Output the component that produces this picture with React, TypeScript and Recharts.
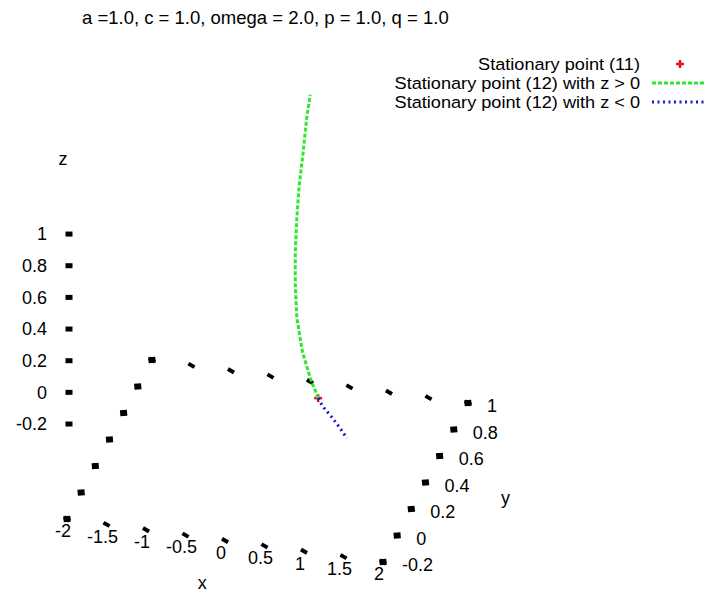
import React from 'react';
import { ScatterChart, Scatter, XAxis, YAxis, Legend } from 'recharts';

const W = 706;
const H = 592;
const FONT = '"Liberation Sans", Arial, Helvetica, sans-serif';
const FS = 18;

// tick values
const xTicks = [-2, -1.5, -1, -0.5, 0, 0.5, 1, 1.5, 2];
const yTicks = [-0.2, 0, 0.2, 0.4, 0.6, 0.8, 1];
const zTicks = [-0.2, 0, 0.2, 0.4, 0.6, 0.8, 1];

const legendNames = [
  'Stationary point (11)',
  'Stationary point (12) with z > 0',
  'Stationary point (12) with z < 0',
];

// stationary point (11)
const p11X = [1];
const p11Y = [0];
const p11Z = [0];

// stationary point (12), z > 0 branch
const upX = [1.0, 0.9, 0.8, 0.73, 0.71, 0.71, 0.73, 0.76, 0.81, 0.855, 0.9];
const upY = [0, 0, 0, 0, 0, 0, 0, 0, 0, 0, 0];
const upZ = [0, 0.12, 0.28, 0.49, 0.7, 0.9, 1.12, 1.33, 1.54, 1.76, 1.91];

// stationary point (12), z < 0 branch
const downX = [1.0, 1.06, 1.175, 1.276, 1.365];
const downY = [0, 0, 0, 0, 0];
const downZ = [0, -0.05, -0.11, -0.17, -0.23];

// view (parallel projection like gnuplot splot): screen units per data unit
const X0 = -2, Y0 = -0.2, Z0 = -0.8; // base corner
const EX = [79, -10.75];
const EY = [70.8, 132.5];
const EZ = [0, 158.3];
const PX0 = 67;
const PY0 = 519;

const project = (x: number, y: number, z: number) => ({
  u: (x - X0) * EX[0] + (y - Y0) * EY[0] + (z - Z0) * EZ[0],
  v: (x - X0) * EX[1] + (y - Y0) * EY[1] + (z - Z0) * EZ[1],
});

const series = (xs: number[], ys: number[], zs: number[]) =>
  xs.map((x, i) => project(x, ys[i], zs[i]));

const p11Data = series(p11X, p11Y, p11Z);
const upData = series(upX, upY, upZ);
const downData = series(downX, downY, downZ);

const xFront = xTicks.map((x) => ({ ...project(x, Y0, Z0), label: String(x) }));
const xBack = xTicks.map((x) => project(x, 1, Z0));
const yRight = yTicks.map((y) => ({ ...project(2, y, Z0), label: String(y) }));
const yLeft = yTicks.map((y) => project(X0, y, Z0));
const zAxis = zTicks.map((z) => ({ ...project(X0, Y0, z), label: String(z) }));

const axisTitles = [
  { ...project(0, -0.52, Z0), label: 'x' },
  { ...project(3.04, 0.37, Z0), label: 'y' },
  { ...project(X0 - 0.05, Y0, 1.47), label: 'z' },
];

const GREEN = '#2ee82e';
const BLUE = '#1717d4';
const RED = '#f01010';

const txt = { fontFamily: FONT, fontSize: FS, fill: '#000' };

const tickBlob = (rot: number, w = 7, h = 4, dx = 0) => (p: any) => (
  <rect
    x={p.cx + dx - w / 2}
    y={p.cy - h / 2}
    width={w}
    height={h}
    fill="#000"
    transform={`rotate(${rot} ${p.cx + dx} ${p.cy})`}
  />
);

const xFrontShape = (p: any) => (
  <g>
    {tickBlob(30)(p)}
    <text x={p.cx - 4} y={p.cy + 12} dy="0.35em" textAnchor="middle" style={txt}>
      {p.payload.label}
    </text>
  </g>
);

const yRightShape = (p: any) => (
  <g>
    {tickBlob(-5, 7, 6)(p)}
    <text x={p.cx + 19} y={p.cy + 3} dy="0.35em" textAnchor="start" style={txt}>
      {p.payload.label}
    </text>
  </g>
);

const zShape = (p: any) => (
  <g>
    {tickBlob(0, 7, 5, 2)(p)}
    <text x={p.cx - 20} y={p.cy} dy="0.35em" textAnchor="end" style={txt}>
      {p.payload.label}
    </text>
  </g>
);

const titleShape = (p: any) => (
  <text x={p.cx} y={p.cy} dy="0.35em" textAnchor="middle" style={txt}>
    {p.payload.label}
  </text>
);

const plusShape = (p: any) => (
  <g stroke={RED} strokeWidth={2.5}>
    <line x1={p.cx - 4} y1={p.cy} x2={p.cx + 4} y2={p.cy} />
    <line x1={p.cx} y1={p.cy - 4} x2={p.cx} y2={p.cy + 4} />
  </g>
);

const noShape = () => <g />;

const LegendBox = (props: any) => {
  const items = (props.payload || [])
    .filter((e: any) => legendNames.includes(e.value))
    .sort((a: any, b: any) => legendNames.indexOf(a.value) - legendNames.indexOf(b.value));
  return (
    <svg width={W} height={120}>
      {items.map((e: any) => {
        const i = legendNames.indexOf(e.value);
        const y = 64 + i * 19;
        return (
          <g key={e.value}>
            <text
              x={0}
              y={0}
              dy="0.35em"
              textAnchor="end"
              transform={`translate(640 ${y}) scale(1.1 1)`}
              style={{ ...txt, fontSize: 16.5 }}
            >
              {e.value}
            </text>
            {i === 0 ? (
              <g stroke={RED} strokeWidth={2.5}>
                <line x1={676} y1={y} x2={684} y2={y} />
                <line x1={680} y1={y - 4} x2={680} y2={y + 4} />
              </g>
            ) : (
              <line
                x1={652}
                y1={y}
                x2={706}
                y2={y}
                stroke={e.color}
                strokeWidth={3}
                strokeDasharray={i === 1 ? '4 2' : '2 3.5'}
              />
            )}
          </g>
        );
      })}
    </svg>
  );
};

export default function App() {
  return (
    <div style={{ position: 'absolute', left: 0, top: 0, width: W, height: H, background: '#fff' }}>
      <div
        style={{
          position: 'absolute',
          left: 82,
          top: 8,
          fontFamily: FONT,
          fontSize: 18.5,
          lineHeight: '20px',
          whiteSpace: 'nowrap',
          color: '#000',
        }}
      >
        a =1.0, c = 1.0, omega = 2.0, p = 1.0, q = 1.0
      </div>
      <ScatterChart width={W} height={H} margin={{ top: 0, right: 0, bottom: 0, left: 0 }}>
        <XAxis type="number" dataKey="u" domain={[-PX0, W - PX0]} hide allowDataOverflow />
        <YAxis type="number" dataKey="v" domain={[PY0 - H, PY0]} hide allowDataOverflow />
        <Legend
          layout="horizontal"
          verticalAlign="middle"
          align="center"
          content={LegendBox}
          wrapperStyle={{ position: 'absolute', left: 0, top: 0, width: W, height: 120 }}
        />
        <Scatter data={xBack} shape={tickBlob(30)} legendType="none" isAnimationActive={false} />
        <Scatter data={yLeft} shape={tickBlob(-5, 7, 6)} legendType="none" isAnimationActive={false} />
        <Scatter data={xFront} shape={xFrontShape} legendType="none" isAnimationActive={false} />
        <Scatter data={yRight} shape={yRightShape} legendType="none" isAnimationActive={false} />
        <Scatter data={zAxis} shape={zShape} legendType="none" isAnimationActive={false} />
        <Scatter data={axisTitles} shape={titleShape} legendType="none" isAnimationActive={false} />
        <Scatter
          name={legendNames[0]}
          data={p11Data}
          fill={RED}
          shape={plusShape}
          isAnimationActive={false}
        />
        <Scatter
          name={legendNames[1]}
          data={upData}
          fill={GREEN}
          line={{ stroke: GREEN, strokeWidth: 3, strokeDasharray: '4 2' }}
          lineType="joint"
          shape={noShape}
          isAnimationActive={false}
        />
        <Scatter
          name={legendNames[2]}
          data={downData}
          fill={BLUE}
          line={{ stroke: BLUE, strokeWidth: 3, strokeDasharray: '2 3.5' }}
          lineType="joint"
          shape={noShape}
          isAnimationActive={false}
        />
      </ScatterChart>
    </div>
  );
}
